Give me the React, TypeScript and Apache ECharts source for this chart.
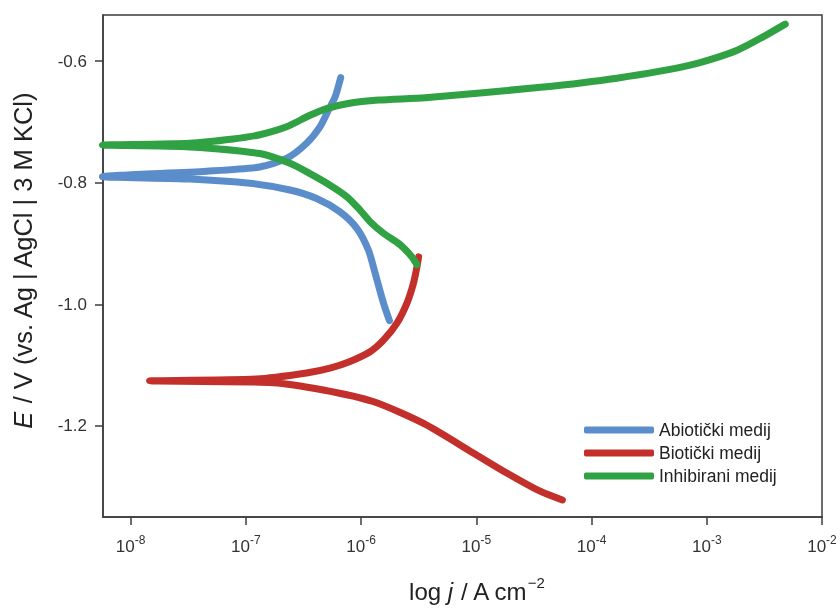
import React, { useEffect, useRef } from "react";
import * as echarts from "echarts";

// log10(j / A cm^-2) and E / V, ordered from cathodic end through Ecorr to anodic end
const abioLogJ = [-5.754, -5.806, -5.878, -5.936, -6.037, -6.183, -6.386, -6.618, -6.966, -7.488, -8.245, -7.34, -6.879, -6.647, -6.473, -6.357, -6.285, -6.226, -6.177];
const abioE = [-1.027, -0.998, -0.949, -0.911, -0.875, -0.848, -0.826, -0.812, -0.801, -0.794, -0.79, -0.781, -0.774, -0.76, -0.735, -0.708, -0.681, -0.659, -0.627];

const bioLogJ = [-4.253, -4.442, -4.732, -5.023, -5.458, -5.896, -6.328, -6.763, -7.836, -6.908, -6.473, -6.27, -6.096, -5.922, -5.806, -5.689, -5.602, -5.545, -5.515, -5.501];
const bioE = [-1.322, -1.308, -1.278, -1.245, -1.196, -1.16, -1.141, -1.129, -1.126, -1.123, -1.113, -1.105, -1.094, -1.078, -1.059, -1.031, -0.998, -0.965, -0.938, -0.922];

const inhibLogJ = [-5.515, -5.559, -5.661, -5.806, -5.922, -6.009, -6.124, -6.27, -6.444, -6.618, -6.879, -7.488, -8.245, -7.488, -7.11, -6.879, -6.647, -6.444, -6.299, -6.124, -5.849, -5.443, -4.442, -3.781, -3.154, -2.736, -2.319];
const inhibE = [-0.935, -0.922, -0.902, -0.883, -0.864, -0.845, -0.823, -0.804, -0.785, -0.768, -0.752, -0.741, -0.738, -0.735, -0.728, -0.721, -0.708, -0.689, -0.678, -0.67, -0.664, -0.66, -0.643, -0.628, -0.607, -0.582, -0.539];

const seriesNames = ["Abiotički medij", "Biotički medij", "Inhibirani medij"];
const seriesColors = ["#5b8dcb", "#c3302b", "#30a244"];

const xTicks = [-8, -7, -6, -5, -4, -3, -2];
const yTicks = [-1.2, -1.0, -0.8, -0.6];

const FONT = "'Liberation Sans', Arial, sans-serif";

export default function App() {
  const ref = useRef<HTMLDivElement>(null);
  useEffect(() => {
    if (!ref.current) return;
    const chart = echarts.init(ref.current, undefined, { renderer: "svg" });
    const pairs = (xs: number[], ys: number[]) => xs.map((x, i) => [x, ys[i]]);
    const datasets = [pairs(abioLogJ, abioE), pairs(bioLogJ, bioE), pairs(inhibLogJ, inhibE)];
    chart.setOption({
      animation: false,
      grid: {
        left: 103,
        right: 18,
        top: 15,
        bottom: 91,
        show: true,
        borderColor: "#3c3c3c",
        borderWidth: 1.5,
        backgroundColor: "transparent",
      },
      xAxis: {
        type: "value",
        min: -8.24,
        max: -2,
        axisLine: { show: true, lineStyle: { color: "#3c3c3c", width: 1.5 } },
        axisTick: { show: true, length: 8, inside: false, customValues: xTicks, lineStyle: { color: "#3c3c3c", width: 1.5 } },
        splitLine: { show: false },
        axisLabel: {
          customValues: xTicks,
          margin: 17,
          formatter: (v: number) => `{b|10}{s|${Math.round(v)}}`,
          rich: {
            b: { fontSize: 17, color: "#333", fontFamily: FONT },
            s: { fontSize: 12, color: "#333", fontFamily: FONT, padding: [0, 0, 12, 0] },
          },
        },
      },
      yAxis: {
        type: "value",
        min: -1.35,
        max: -0.524,
        axisLine: { show: true, lineStyle: { color: "#3c3c3c", width: 1.5 } },
        axisTick: { show: true, length: 8, inside: false, customValues: yTicks, lineStyle: { color: "#3c3c3c", width: 1.5 } },
        splitLine: { show: false },
        axisLabel: {
          customValues: yTicks,
          margin: 16,
          fontSize: 17,
          color: "#333",
          fontFamily: FONT,
          formatter: (v: number) => v.toFixed(1),
        },
      },
      legend: {
        orient: "vertical",
        left: 584,
        top: 421,
        itemWidth: 70,
        itemHeight: 7,
        itemGap: 5,
        padding: 0,
        icon: "roundRect",
        textStyle: { fontSize: 17.5, color: "#222", fontFamily: FONT },
        data: seriesNames,
      },
      series: datasets.map((d, i) => ({
        name: seriesNames[i],
        type: "line",
        data: d,
        showSymbol: false,
        symbol: "none",
        smooth: 0.25,
        clip: false,
        color: seriesColors[i],
        itemStyle: { color: seriesColors[i] },
        lineStyle: { color: seriesColors[i], width: 7, cap: "round", join: "round" },
      })),
      graphic: [
        {
          type: "text",
          x: 23,
          y: 260,
          rotation: Math.PI / 2,
          style: {
            text: "{i|E}{n| / V (vs. Ag | AgCl | 3 M KCl)}",
            align: "center",
            verticalAlign: "middle",
            rich: {
              i: { fontSize: 25.5, fontStyle: "italic", fill: "#222", fontFamily: FONT },
              n: { fontSize: 25.5, fill: "#222", fontFamily: FONT },
            },
          },
        },
        {
          type: "text",
          x: 477,
          y: 591,
          style: {
            text: "{n|log }{i|j}{n| / A cm}{s|\u22122}",
            align: "center",
            verticalAlign: "middle",
            rich: {
              i: { fontSize: 24, fontStyle: "italic", fill: "#222", fontFamily: FONT },
              n: { fontSize: 24, fill: "#222", fontFamily: FONT },
              s: { fontSize: 15, fill: "#222", fontFamily: FONT, padding: [0, 0, 18, 0] },
            },
          },
        },
      ],
    });
    return () => chart.dispose();
  }, []);
  return <div ref={ref} style={{ position: "fixed", left: 0, top: 0, width: 840, height: 608 }} />;
}
